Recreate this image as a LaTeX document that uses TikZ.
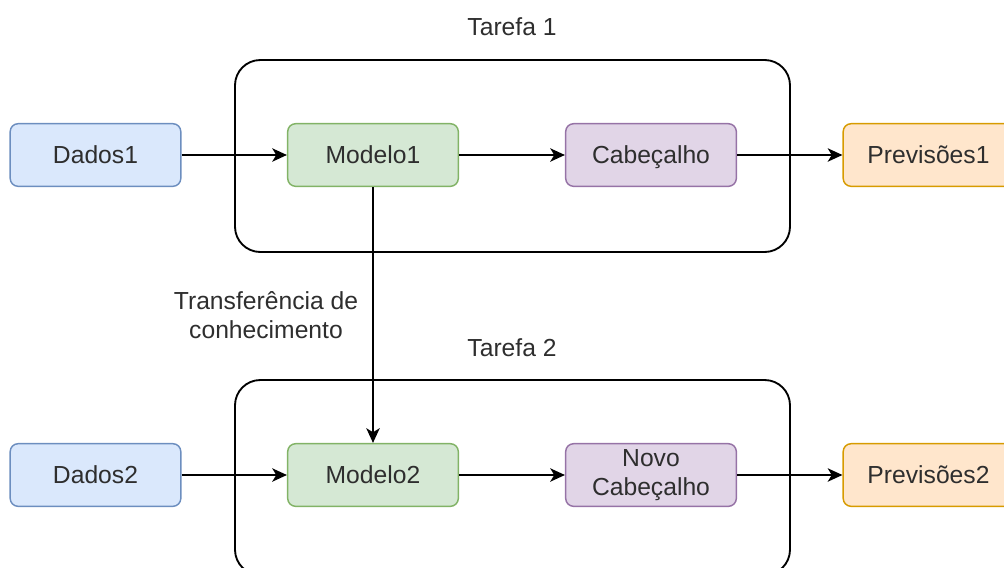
\documentclass[tikz,border=0pt]{standalone}
\usepackage{fontspec}
\setmainfont{Liberation Sans}
\usetikzlibrary{arrows.meta}
\definecolor{bluefill}{HTML}{DAE8FC}
\definecolor{blueline}{HTML}{6C8EBF}
\definecolor{greenfill}{HTML}{D5E8D4}
\definecolor{greenline}{HTML}{82B366}
\definecolor{lilacfill}{HTML}{E1D5E7}
\definecolor{lilacline}{HTML}{9673A6}
\definecolor{orangefill}{HTML}{FFE6CC}
\definecolor{orangeline}{HTML}{D79B00}
\definecolor{txt}{HTML}{2E2E2E}
\tikzset{
  blk/.style={draw, rounded corners=6pt, minimum width=128pt, minimum height=47pt,
    inner sep=0pt, align=center, text=txt, line width=1.1pt},
  dat/.style={blk, fill=bluefill, draw=blueline},
  mdl/.style={blk, fill=greenfill, draw=greenline},
  cab/.style={blk, fill=lilacfill, draw=lilacline},
  prv/.style={blk, fill=orangefill, draw=orangeline},
  task/.style={draw, rounded corners=19pt, line width=1.4pt},
  lbl/.style={text=txt, align=center},
}

\begin{document}
\begin{tikzpicture}[x=0.75pt, y=-0.75pt, line width=1.6pt,
    font=\fontsize{18.5}{22}\selectfont, >={Stealth[length=11pt,width=10pt,inset=3pt]}]
  \clip (0,0) rectangle (1004,568);
  % task containers
  \draw[task] (235,60) rectangle (790,252);
  \draw[task] (235,380) rectangle (790,575);
  \node[lbl] (t1) at (512,27) {Tarefa 1};
  \node[lbl] (t2) at (512,348) {Tarefa 2};
  % first row
  \node[dat] (d1) at (95.5,155) {Dados1};
  \node[mdl] (m1) at (373,155) {Modelo1};
  \node[cab, text depth=0pt] (c1) at (651,155) {Cabeçalho};
  \node[prv] (p1) at (928.5,155) {Previsões1};
  % second row
  \node[dat] (d2) at (95.5,475) {Dados2};
  \node[mdl] (m2) at (373,475) {Modelo2};
  \node[cab] (c2) at (651,475) {Novo\\Cabeçalho};
  \node[prv] (p2) at (928.5,475) {Previsões2};
  \foreach \a/\b in {d1/m1,m1/c1,c1/p1,d2/m2,m2/c2,c2/p2,m1/m2}
    \draw[->] (\a) -- (\b);
  \node[lbl] (tr) at (266,315) {Transferência de\\conhecimento};
\end{tikzpicture}
\end{document}
